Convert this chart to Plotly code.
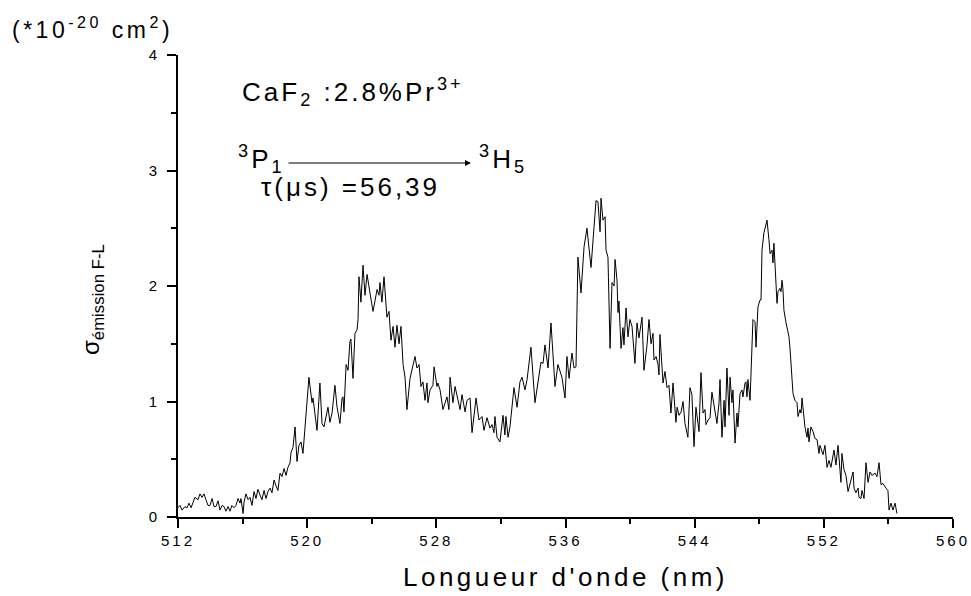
import plotly.graph_objects as go

# Emission cross-section spectrum, CaF2:2.8%Pr3+, 3P1 -> 3H5
wavelength_nm = [
    512.00, 512.12, 512.25, 512.43, 512.56, 512.68, 512.81, 512.93, 513.05, 513.24,
    513.36, 513.49, 513.61, 513.73, 513.86, 513.98, 514.11, 514.23, 514.35, 514.48,
    514.60, 514.73, 514.85, 514.97, 515.10, 515.22, 515.34, 515.47, 515.59, 515.72,
    515.84, 515.90, 516.03, 516.09, 516.21, 516.34, 516.46, 516.58, 516.71, 516.83,
    516.95, 517.08, 517.20, 517.33, 517.45, 517.57, 517.70, 517.82, 517.95, 518.07,
    518.19, 518.32, 518.44, 518.57, 518.69, 518.81, 518.94, 519.00, 519.12, 519.25,
    519.37, 519.49, 519.62, 519.74, 519.87, 519.99, 520.11, 520.30, 520.36, 520.61,
    520.79, 520.92, 521.04, 521.29, 521.41, 521.54, 521.72, 521.85, 522.03, 522.16,
    522.22, 522.28, 522.41, 522.53, 522.65, 522.71, 522.84, 522.96, 523.09, 523.15,
    523.21, 523.33, 523.46, 523.58, 523.71, 523.89, 524.08, 524.33, 524.45, 524.51,
    524.63, 524.76, 524.94, 525.07, 525.19, 525.32, 525.44, 525.56, 525.69, 525.81,
    525.94, 526.06, 526.18, 526.37, 526.55, 526.68, 526.80, 526.93, 527.05, 527.17,
    527.30, 527.42, 527.48, 527.61, 527.79, 527.86, 528.04, 528.10, 528.23, 528.41,
    528.66, 528.78, 528.85, 529.03, 529.16, 529.34, 529.47, 529.59, 529.78, 529.90,
    530.09, 530.21, 530.33, 530.46, 530.64, 530.83, 530.95, 531.14, 531.32, 531.45,
    531.57, 531.63, 531.76, 531.94, 532.13, 532.25, 532.31, 532.44, 532.56, 532.81,
    533.00, 533.18, 533.31, 533.49, 533.62, 533.86, 534.11, 534.30, 534.48, 534.61,
    534.73, 534.92, 535.10, 535.35, 535.53, 535.78, 535.97, 536.09, 536.22, 536.40,
    536.53, 536.65, 536.77, 536.96, 537.15, 537.33, 537.58, 537.89, 538.01, 538.14,
    538.20, 538.32, 538.45, 538.51, 538.63, 538.76, 538.88, 539.01, 539.07, 539.19,
    539.25, 539.31, 539.44, 539.56, 539.62, 539.75, 539.87, 539.99, 540.12, 540.30,
    540.43, 540.55, 540.68, 540.74, 540.86, 541.05, 541.17, 541.30, 541.42, 541.48,
    541.61, 541.73, 541.79, 541.85, 542.04, 542.16, 542.29, 542.41, 542.53, 542.66,
    542.84, 542.91, 543.03, 543.16, 543.28, 543.40, 543.58, 543.71, 543.83, 543.96,
    544.08, 544.27, 544.39, 544.52, 544.64, 544.70, 544.83, 544.95, 545.07, 545.26,
    545.38, 545.51, 545.57, 545.69, 545.82, 545.88, 546.00, 546.13, 546.19, 546.31,
    546.37, 546.50, 546.62, 546.68, 546.81, 546.93, 546.99, 547.12, 547.18, 547.24,
    547.30, 547.43, 547.55, 547.61, 547.74, 547.80, 547.92, 548.05, 548.11, 548.17,
    548.29, 548.48, 548.60, 548.67, 548.79, 548.85, 548.91, 548.98, 549.04, 549.10,
    549.16, 549.28, 549.35, 549.41, 549.47, 549.53, 549.66, 549.84, 549.90, 550.03,
    550.09, 550.21, 550.34, 550.40, 550.52, 550.59, 550.65, 550.83, 550.96, 551.02,
    551.08, 551.20, 551.33, 551.45, 551.58, 551.70, 551.76, 551.95, 552.07, 552.20,
    552.32, 552.44, 552.63, 552.75, 552.88, 553.06, 553.12, 553.25, 553.37, 553.50,
    553.62, 553.81, 553.87, 553.99, 554.12, 554.18, 554.30, 554.36, 554.49, 554.61,
    554.74, 554.86, 554.98, 555.17, 555.29, 555.42, 555.54, 555.66, 555.85, 555.97,
    556.04, 556.16, 556.28, 556.41, 556.53,
]

sigma_emission = [
    0.08, 0.10, 0.06, 0.09, 0.08, 0.12, 0.08, 0.13, 0.17, 0.15,
    0.20, 0.17, 0.20, 0.15, 0.10, 0.10, 0.16, 0.09, 0.09, 0.14,
    0.06, 0.10, 0.09, 0.05, 0.09, 0.05, 0.10, 0.08, 0.10, 0.16,
    0.12, 0.16, 0.03, 0.13, 0.20, 0.15, 0.17, 0.10, 0.22, 0.16,
    0.24, 0.19, 0.15, 0.23, 0.16, 0.22, 0.25, 0.21, 0.32, 0.27,
    0.23, 0.38, 0.35, 0.42, 0.36, 0.43, 0.47, 0.56, 0.60, 0.78,
    0.48, 0.62, 0.65, 0.55, 0.80, 0.95, 1.21, 0.99, 1.03, 0.75,
    1.16, 0.81, 0.78, 0.95, 0.82, 0.90, 1.14, 0.95, 0.81, 1.03,
    1.04, 0.91, 1.32, 1.27, 1.52, 1.54, 1.20, 1.59, 1.62, 1.71,
    2.08, 1.86, 2.18, 1.92, 2.10, 1.94, 1.78, 1.97, 1.92, 2.03,
    1.86, 2.08, 1.73, 1.78, 1.53, 1.65, 1.47, 1.66, 1.50, 1.65,
    1.32, 1.21, 0.93, 1.20, 1.30, 1.39, 1.29, 1.32, 1.13, 1.17,
    1.01, 1.16, 0.99, 1.10, 1.14, 1.30, 1.13, 1.16, 1.10, 0.93,
    1.04, 0.93, 1.21, 0.99, 1.13, 1.01, 0.93, 1.06, 0.91, 1.01,
    1.03, 0.73, 0.90, 1.03, 0.84, 0.87, 0.75, 0.86, 0.77, 0.80,
    0.73, 0.87, 0.69, 0.65, 0.88, 0.71, 0.87, 0.69, 0.78, 1.12,
    0.95, 1.17, 1.21, 1.10, 1.19, 1.47, 0.99, 1.17, 1.34, 1.33,
    1.49, 1.29, 1.68, 1.13, 1.32, 1.21, 1.03, 1.39, 1.20, 1.42,
    1.29, 1.30, 2.25, 1.94, 2.34, 2.50, 2.16, 2.74, 2.73, 2.47,
    2.76, 2.57, 2.60, 2.31, 2.25, 1.46, 2.03, 2.00, 2.23, 2.05,
    1.77, 1.87, 1.46, 1.64, 1.49, 1.81, 1.56, 1.71, 1.65, 1.33,
    1.68, 1.55, 1.65, 1.73, 1.27, 1.49, 1.71, 1.50, 1.59, 1.36,
    1.39, 1.32, 1.23, 1.58, 1.16, 1.26, 1.12, 1.14, 0.90, 1.16,
    0.82, 0.95, 0.88, 0.91, 1.00, 0.81, 0.69, 1.12, 1.06, 0.61,
    0.95, 0.74, 1.25, 0.90, 0.93, 0.80, 0.84, 0.86, 1.08, 0.90,
    0.81, 0.99, 1.19, 0.69, 1.01, 0.78, 1.29, 0.88, 1.21, 0.99,
    1.10, 0.64, 0.90, 0.78, 1.07, 1.10, 1.04, 1.16, 1.17, 1.04,
    1.19, 1.01, 1.62, 1.71, 1.69, 1.47, 1.82, 1.88, 1.88, 2.31,
    2.46, 2.57, 2.40, 2.28, 2.31, 2.20, 2.37, 2.20, 2.00, 1.85,
    1.95, 1.98, 1.95, 2.05, 1.97, 1.79, 1.68, 1.56, 1.47, 1.12,
    1.07, 1.01, 0.99, 0.87, 0.93, 0.90, 1.03, 0.78, 0.69, 0.77,
    0.65, 0.78, 0.74, 0.68, 0.67, 0.55, 0.62, 0.54, 0.62, 0.43,
    0.49, 0.43, 0.58, 0.45, 0.62, 0.30, 0.55, 0.41, 0.36, 0.22,
    0.29, 0.39, 0.25, 0.21, 0.25, 0.17, 0.16, 0.23, 0.16, 0.47,
    0.30, 0.39, 0.36, 0.38, 0.35, 0.47, 0.28, 0.29, 0.25, 0.23,
    0.06, 0.12, 0.06, 0.12, 0.03,
]

x_tick_values = [512, 520, 528, 536, 544, 552, 560]
y_tick_values = [0, 1, 2, 3, 4]

FONT = "Liberation Sans, Arial, Helvetica, sans-serif"


def spaced(text, px):
    return f"<span style='letter-spacing:{px}px'>{text}</span>"


fig = go.Figure()
fig.add_trace(go.Scatter(
    x=wavelength_nm, y=sigma_emission, mode="lines",
    line=dict(color="black", width=1), showlegend=False, hoverinfo="skip",
))

axis_common = dict(
    showgrid=False, zeroline=False, showline=True, linecolor="black", linewidth=2,
    ticks="outside", tickcolor="black", tickwidth=2, ticklen=9, automargin=False,
    tickfont=dict(family=FONT, size=15, color="black"), mirror=False,
)

fig.update_xaxes(
    range=[512, 560], tickvals=x_tick_values,
    ticktext=[spaced(str(v), 3) for v in x_tick_values],
    minor=dict(dtick=4, tick0=512, ticks="outside", ticklen=5, tickwidth=2, tickcolor="black"),
    title=dict(text=spaced("Longueur d'onde (nm)", 3.5),
               font=dict(family=FONT, size=26, color="black"), standoff=20),
    **axis_common,
)
fig.update_yaxes(
    range=[0, 4], tickvals=y_tick_values,
    ticktext=[str(v) for v in y_tick_values],
    minor=dict(dtick=0.5, tick0=0, ticks="outside", ticklen=5, tickwidth=2, tickcolor="black"),
    ticklabelstandoff=7,
    **axis_common,
)


def px_x(px):
    return (px - 178) / 775.0


def px_y(py):
    return (517 - py) / 462.0


big_font = dict(family=FONT, size=26, color="black")
annotations = [
    dict(text=spaced("(*10<sup>-20</sup> cm<sup>2</sup>)", 3.5), x=px_x(10), y=px_y(28),
         xanchor="left", yanchor="middle", font=dict(family=FONT, size=23, color="black")),
    dict(text=spaced("CaF<sub>2</sub> :2.8%Pr<sup>3+</sup>", 3), x=px_x(240), y=px_y(92),
         xanchor="left", yanchor="middle", font=big_font),
    dict(text=spaced("<sup>3</sup>P<sub>1</sub>", 3), x=px_x(236), y=px_y(159),
         xanchor="left", yanchor="middle", font=big_font),
    dict(text=spaced("<sup>3</sup>H<sub>5</sub>", 3), x=px_x(477), y=px_y(159),
         xanchor="left", yanchor="middle", font=big_font),
    dict(text=spaced("τ(μs) =56,39", 3), x=px_x(259), y=px_y(187),
         xanchor="left", yanchor="middle", font=big_font),
    dict(text="σ<sub>émission F-L</sub>", x=px_x(92), y=px_y(300), textangle=-90,
         xanchor="center", yanchor="middle", font=dict(family=FONT, size=24, color="black")),
]
for a in annotations:
    a.update(xref="paper", yref="paper", showarrow=False)

# transition arrow 3P1 -> 3H5
annotations.append(dict(
    x=px_x(471), y=px_y(163), xref="paper", yref="paper", text="",
    showarrow=True, ax=-184, ay=0, arrowhead=2, arrowsize=1.2, arrowwidth=1,
    arrowcolor="black",
))

fig.update_layout(
    width=971, height=596, autosize=False,
    margin=dict(l=178, r=18, t=55, b=79),
    paper_bgcolor="white", plot_bgcolor="white",
    annotations=annotations,
)

fig.write_html("out.html")
